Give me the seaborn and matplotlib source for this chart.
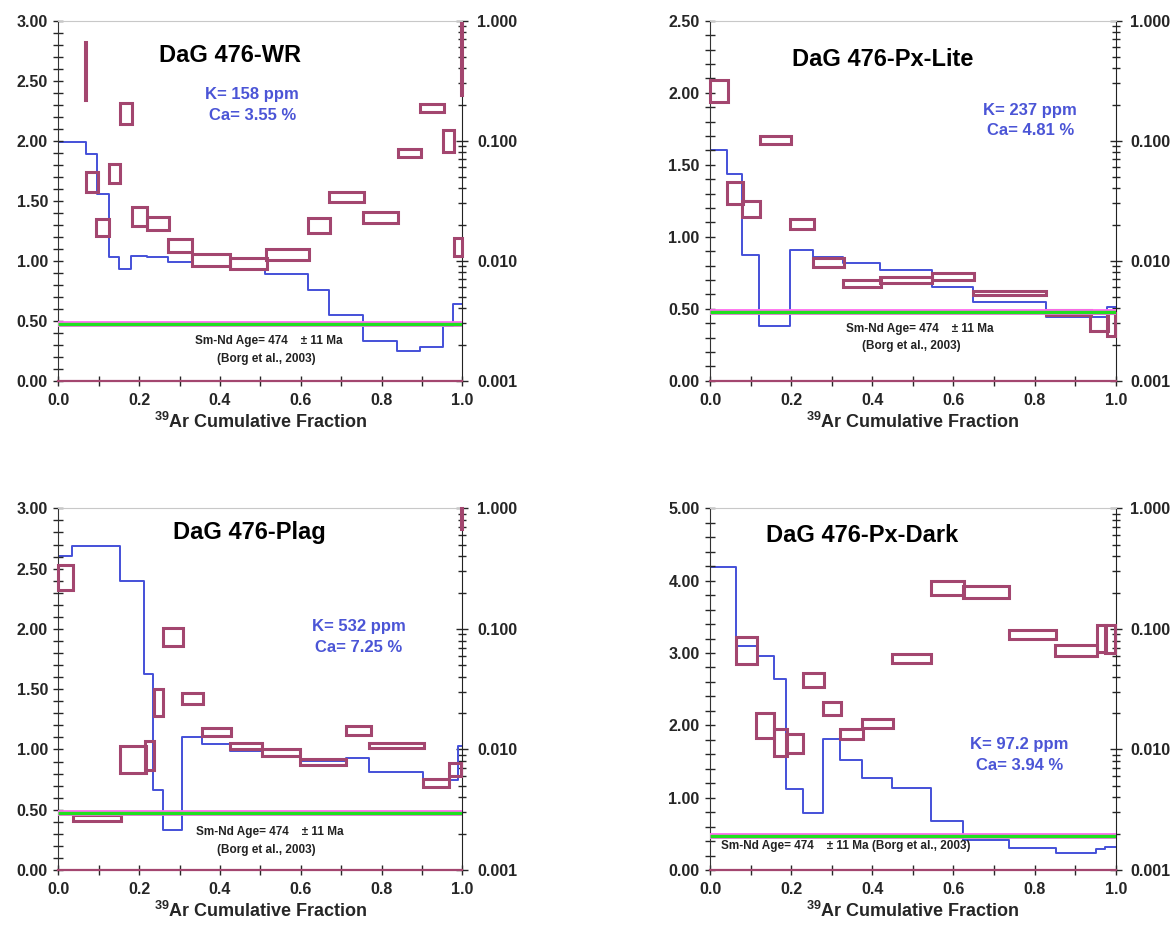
import matplotlib
matplotlib.use("Agg")
import matplotlib.pyplot as plt
import seaborn as sns
from matplotlib.patches import Rectangle
from matplotlib.ticker import MultipleLocator, FuncFormatter, LogLocator, NullFormatter

# Ar-Ar age spectra (boxes, Ga, left axis) and K/Ca steps (blue, right log axis)
SMND_AGE = 0.474

# --- DaG 476-WR ---
wr_edges = [0, 0.068, 0.095, 0.125, 0.150, 0.180, 0.219, 0.272, 0.330, 0.425,
            0.512, 0.617, 0.670, 0.753, 0.838, 0.894, 0.951, 0.978, 1.0]
wr_kca = [0.0977, 0.0776, 0.0363, 0.0107, 0.00851, 0.0110, 0.0107, 0.00977, 0.00891,
          0.00851, 0.00776, 0.00575, 0.00355, 0.00214, 0.00178, 0.00191, 0.00288, 0.00437]
wr_xlo = [0.067, 0.068, 0.093, 0.125, 0.153, 0.182, 0.219, 0.272, 0.332, 0.425,
          0.513, 0.617, 0.670, 0.753, 0.840, 0.895, 0.953, 0.980, 0.997]
wr_xhi = [0.069, 0.097, 0.125, 0.153, 0.182, 0.219, 0.275, 0.332, 0.425, 0.517,
          0.621, 0.672, 0.757, 0.842, 0.898, 0.955, 0.980, 1.0, 1.0]
wr_lo = [2.34, 1.575, 1.203, 1.65, 2.139, 1.292, 1.256, 1.069, 0.956, 0.935,
         1.006, 1.228, 1.492, 1.317, 1.862, 2.239, 1.908, 1.039, 2.38]
wr_hi = [2.825, 1.736, 1.347, 1.806, 2.311, 1.444, 1.367, 1.178, 1.053, 1.02,
         1.095, 1.353, 1.570, 1.408, 1.931, 2.303, 2.089, 1.192, 2.98]

# --- DaG 476-Px-Lite ---
pl_edges = [0, 0.0427, 0.078, 0.1216, 0.198, 0.255, 0.327, 0.419, 0.546, 0.647, 0.827, 0.979, 1.0]
pl_kca = [0.0835, 0.0531, 0.0112, 0.00287, 0.01225, 0.01074, 0.00962, 0.00837,
          0.0060, 0.00456, 0.00337, 0.00408]
pl_xlo = [0, 0.041, 0.078, 0.123, 0.197, 0.253, 0.327, 0.419, 0.546, 0.647, 0.827, 0.937, 0.979]
pl_xhi = [0.045, 0.081, 0.123, 0.2, 0.256, 0.329, 0.422, 0.546, 0.651, 0.829, 0.938, 0.982, 0.998]
pl_lo = [1.933, 1.225, 1.134, 1.641, 1.051, 0.792, 0.653, 0.681, 0.699, 0.595, 0.456, 0.347, 0.31]
pl_hi = [2.088, 1.382, 1.248, 1.699, 1.123, 0.850, 0.699, 0.722, 0.745, 0.625, 0.491, 0.468, 0.468]

# --- DaG 476-Plag ---
pg_edges = [0, 0.035, 0.153, 0.212, 0.235, 0.258, 0.307, 0.355, 0.425, 0.503,
            0.597, 0.711, 0.769, 0.902, 0.99, 1.0]
pg_kca = [0.402, 0.486, 0.251, 0.0420, 0.00461, 0.00215, 0.01276, 0.01102, 0.00977,
          0.00887, 0.00802, 0.00855, 0.00655, 0.00557, 0.01067]
pg_xlo = [0, 0.037, 0.153, 0.215, 0.237, 0.26, 0.307, 0.356, 0.425, 0.503,
          0.597, 0.711, 0.77, 0.902, 0.966, 0.996]
pg_xhi = [0.037, 0.154, 0.216, 0.237, 0.26, 0.309, 0.359, 0.427, 0.505, 0.598,
          0.713, 0.773, 0.905, 0.968, 0.996, 0.999]
pg_lo = [2.322, 0.409, 0.807, 0.829, 1.277, 1.858, 1.374, 1.111, 1.001, 0.948,
         0.871, 1.12, 1.015, 0.686, 0.782, 2.826]
pg_hi = [2.53, 0.456, 1.028, 1.073, 1.501, 2.004, 1.465, 1.18, 1.051, 1.001,
         0.918, 1.194, 1.056, 0.752, 0.89, 3.0]

# --- DaG 476-Px-Dark ---
pd_edges = [0, 0.064, 0.115, 0.158, 0.187, 0.228, 0.279, 0.32, 0.375, 0.449,
            0.544, 0.624, 0.737, 0.852, 0.951, 0.974, 1.0]
pd_kca = [0.324, 0.0726, 0.0596, 0.0385, 0.0047, 0.00299, 0.01213, 0.00818, 0.00583,
          0.00482, 0.00255, 0.00177, 0.00153, 0.00139, 0.00149, 0.00156]
pd_xlo = [0.064, 0.113, 0.158, 0.187, 0.228, 0.279, 0.320, 0.375, 0.449, 0.544,
          0.624, 0.737, 0.851, 0.953, 0.974]
pd_xhi = [0.115, 0.158, 0.189, 0.230, 0.282, 0.323, 0.378, 0.452, 0.544, 0.626,
          0.737, 0.853, 0.954, 0.976, 0.998]
pd_lo = [2.848, 1.820, 1.581, 1.622, 2.535, 2.143, 1.806, 1.959, 2.866, 3.802,
         3.765, 3.189, 2.963, 3.018, 2.995]
pd_hi = [3.226, 2.175, 1.945, 1.876, 2.728, 2.327, 1.945, 2.083, 2.986, 3.995,
         3.926, 3.318, 3.111, 3.387, 3.387]

MAROON = "#A3466F"
BLUE = "#4450D8"
TXTBLUE = "#4B55D6"

sns.set_style("ticks")
plt.rcParams['font.family'] = ['Liberation Sans', 'DejaVu Sans']
plt.rcParams['font.weight'] = 'bold'
plt.rcParams['axes.labelweight'] = 'bold'
plt.rcParams['mathtext.fontset'] = 'custom'
plt.rcParams['mathtext.rm'] = 'Liberation Sans:bold'
plt.rcParams['mathtext.bf'] = 'Liberation Sans:bold'

fig = plt.figure(figsize=(11.74, 9.30), dpi=100)


def panel(rect, title, title_xy, ymax, ymaj, ymin, edges, kca, xlo, xhi, lo, hi,
          ktxt, catxt, k_xy, smnd_lines):
    ax = fig.add_axes(rect)
    ax2 = ax.twinx()
    ax.set_zorder(ax2.get_zorder() + 1)
    ax.patch.set_visible(False)

    # K/Ca step line on the log axis
    ax2.set_yscale('log')
    sns.lineplot(x=edges, y=kca + [kca[-1]], ax=ax2, color=BLUE, lw=1.4,
                 drawstyle='steps-post', estimator=None, sort=False)
    ax2.set_ylim(0.001, 1)
    ax2.yaxis.set_major_locator(LogLocator(base=10))
    ax2.yaxis.set_minor_locator(LogLocator(base=10, subs=range(2, 10)))
    ax2.yaxis.set_minor_formatter(NullFormatter())
    ax2.yaxis.set_major_formatter(FuncFormatter(lambda v, p: f"{v:.3f}"))
    ax2.tick_params(axis='y', which='major', direction='inout', length=9, width=1,
                    labelsize=11.5, pad=6)
    ax2.tick_params(axis='y', which='minor', direction='inout', length=6, width=1)

    # age boxes
    for a, b, c, d in zip(xlo, xhi, lo, hi):
        ax.add_patch(Rectangle((a, c), b - a, d - c, fill=False, ec=MAROON, lw=2.2,
                               joinstyle='miter', clip_on=False, zorder=3))
    # Sm-Nd reference age
    ax.plot([0, 1], [SMND_AGE, SMND_AGE], color="#FF6EF0", lw=4.2, solid_capstyle='butt', zorder=4)
    ax.plot([0, 1], [SMND_AGE, SMND_AGE], color="#1FE01F", lw=2.4, solid_capstyle='butt', zorder=5)

    ax.set_xlim(0, 1)
    ax.set_ylim(0, ymax)
    ax.xaxis.set_major_locator(MultipleLocator(0.2))
    ax.xaxis.set_minor_locator(MultipleLocator(0.1))
    ax.yaxis.set_major_locator(MultipleLocator(ymaj))
    ax.yaxis.set_minor_locator(MultipleLocator(ymin))
    ax.xaxis.set_major_formatter(FuncFormatter(lambda v, p: f"{v:.1f}"))
    ax.yaxis.set_major_formatter(FuncFormatter(lambda v, p: f"{v:.2f}"))
    ax.tick_params(axis='both', which='both', direction='inout', length=7, width=1,
                   labelsize=11.5)
    ax.tick_params(axis='y', pad=4)
    ax.tick_params(axis='x', pad=5)
    ax.set_xlabel(r"$^{39}$Ar Cumulative Fraction", fontsize=13, fontweight='bold',
                  labelpad=3)

    for s in ['top', 'bottom', 'left']:
        ax2.spines[s].set_visible(False)
    ax2.spines['right'].set_color('#222222')
    ax.spines['right'].set_visible(False)
    ax.spines['top'].set_color('#C8C8C8')
    ax.spines['left'].set_color('#333333')
    ax.spines['bottom'].set_color(MAROON)
    ax.spines['bottom'].set_linewidth(1.6)

    ax.text(title_xy[0], title_xy[1], title, transform=ax.transAxes, ha='center',
            va='center', fontsize=17, color='black')
    ax.text(k_xy[0], k_xy[1], ktxt, transform=ax.transAxes, ha='center', va='center',
            fontsize=12, color=TXTBLUE)
    ax.text(k_xy[0], k_xy[1] - 0.058, catxt, transform=ax.transAxes, ha='center',
            va='center', fontsize=12, color=TXTBLUE)
    for (tx, ty, s) in smnd_lines:
        ax.text(tx, ty, s, transform=ax.transAxes, ha='center', va='center',
                fontsize=8.5, color='#222222')
    return ax


panel([0.0497, 0.5906, 0.3441, 0.3871], "DaG 476-WR", (0.426, 0.904), 3.0, 0.5, 0.1,
      wr_edges, wr_kca, wr_xlo, wr_xhi, wr_lo, wr_hi,
      "K= 158 ppm", "Ca= 3.55 %", (0.48, 0.794),
      [(0.52, 0.11, "Sm-Nd Age= 474    ± 11 Ma"), (0.514, 0.06, "(Borg et al., 2003)")])

panel([0.6048, 0.5906, 0.3456, 0.3871], "DaG 476-Px-Lite", (0.425, 0.891), 2.5, 0.5, 0.1,
      pl_edges, pl_kca, pl_xlo, pl_xhi, pl_lo, pl_hi,
      "K= 237 ppm", "Ca= 4.81 %", (0.789, 0.752),
      [(0.517, 0.144, "Sm-Nd Age= 474    ± 11 Ma"), (0.495, 0.096, "(Borg et al., 2003)")])

panel([0.0497, 0.0645, 0.3441, 0.3889], "DaG 476-Plag", (0.472, 0.934), 3.0, 0.5, 0.1,
      pg_edges, pg_kca, pg_xlo, pg_xhi, pg_lo, pg_hi,
      "K= 532 ppm", "Ca= 7.25 %", (0.744, 0.673),
      [(0.523, 0.106, "Sm-Nd Age= 474    ± 11 Ma"), (0.514, 0.055, "(Borg et al., 2003)")])

panel([0.6048, 0.0645, 0.3456, 0.3889], "DaG 476-Px-Dark", (0.374, 0.926), 5.0, 1.0, 0.2,
      pd_edges, pd_kca, pd_xlo, pd_xhi, pd_lo, pd_hi,
      "K= 97.2 ppm", "Ca= 3.94 %", (0.763, 0.346),
      [(0.335, 0.066, "Sm-Nd Age= 474    ± 11 Ma (Borg et al., 2003)")])

fig.savefig("out.png", dpi=100)
